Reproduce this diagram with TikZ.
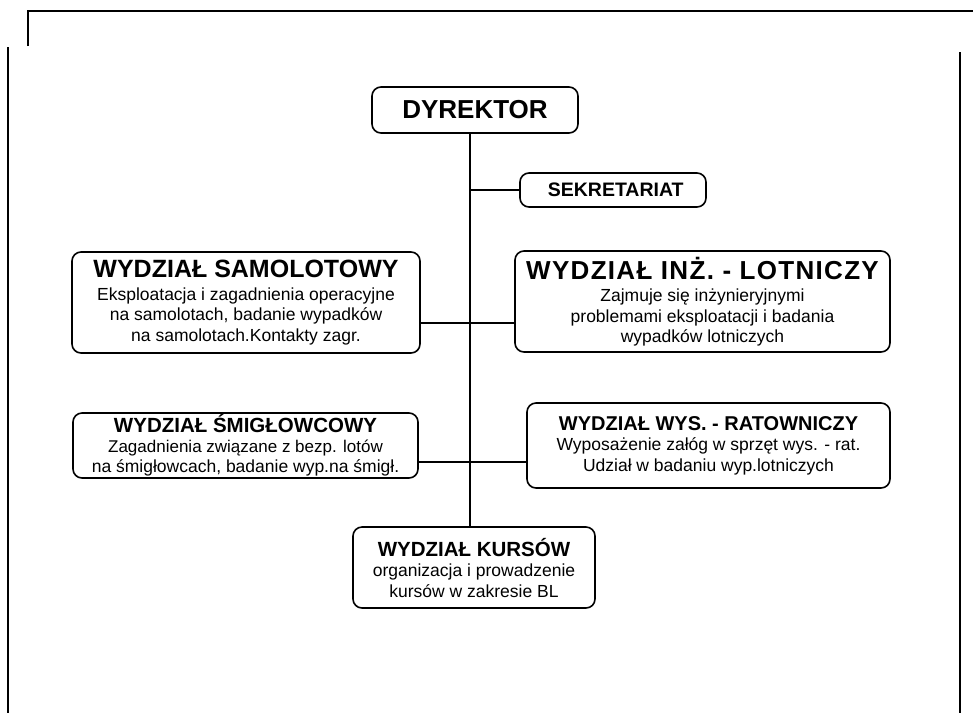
\documentclass[tikz,border=0pt]{standalone}
\usepackage{fontspec}
\setmainfont{Liberation Sans}
\begin{document}
\begin{tikzpicture}[x=1pt,y=1pt,
  unit/.style={draw, line width=1.6pt, rounded corners=9pt, inner sep=0pt,
    align=center, font=\fontsize{17.5}{20.5}\selectfont},
  link/.style={line width=1.1pt},
  frame/.style={line width=1.4pt}]
\useasboundingbox (0,0) rectangle (973,-713);

% page frame
\draw[frame] (28,-46) -- (28,-11) -- (973,-11);
\draw[frame] (8,-47) -- (8,-713);
\draw[frame] (960,-52) -- (960,-713);

% units
\node[unit, minimum width=206, minimum height=46] (dyr) at (475,-110)
  {\bfseries\fontsize{26}{26}\selectfont DYREKTOR};
\node[unit, minimum width=186, minimum height=34] (sek) at (613,-190)
  {\bfseries\fontsize{19.5}{19.5}\selectfont\ SEKRETARIAT};
\node[unit, minimum width=348, minimum height=101] (sam) at (246,-302.5)
  {{\bfseries\fontsize{25}{27}\selectfont WYDZIAŁ SAMOLOTOWY}\\[2pt]
   Eksploatacja i zagadnienia operacyjne\\
   na samolotach, badanie wypadków\\
   na samolotach.Kontakty zagr.};
\node[unit, minimum width=375, minimum height=101] (inz) at (702.5,-301.5)
  {{\bfseries\fontsize{26}{27}\selectfont\addfontfeature{LetterSpace=5}WYDZIAŁ INŻ. - LOTNICZY}\\[2pt]
   Zajmuje się inżynieryjnymi\\
   problemami eksploatacji i badania\\
   wypadków lotniczych};
\node[unit, minimum width=345, minimum height=65] (smi) at (245.5,-445.5)
  {{\bfseries\fontsize{20.5}{20}\selectfont WYDZIAŁ ŚMIGŁOWCOWY}\\[-1pt]
   \fontsize{17}{19}\selectfont Zagadnienia związane z bezp. lotów\\
   na śmigłowcach, badanie wyp.na śmigł.};
\node[unit, minimum width=363, minimum height=85] (wys) at (708.5,-445.5)
  {{\bfseries\fontsize{20}{22}\selectfont WYDZIAŁ WYS. - RATOWNICZY}\\
   Wyposażenie załóg w sprzęt wys. - rat.\\
   Udział w badaniu wyp.lotniczych};
\node[unit, minimum width=242, minimum height=81] (kur) at (474,-567.5)
  {{\bfseries\fontsize{20.5}{22}\selectfont WYDZIAŁ KURSÓW}\\
   organizacja i prowadzenie\\
   kursów w zakresie BL};

% trunk and branches
\coordinate (tx) at (470,0);
\coordinate (jA) at (470,-323);
\coordinate (jB) at (470,-462);
\draw[link] (dyr.south -| tx) -- (kur.north -| tx);
\draw[link] (sek.west) -- (sek.west -| tx);
\draw[link] (jA -| sam.east) -- (jA -| inz.west);
\draw[link] (jB -| smi.east) -- (jB -| wys.west);
\end{tikzpicture}
\end{document}
